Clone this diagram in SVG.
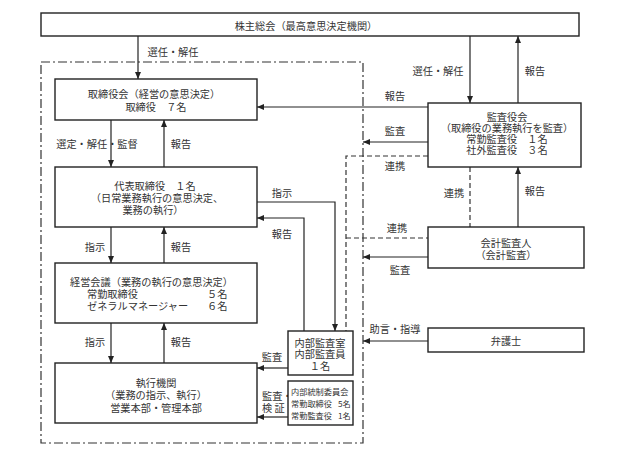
<svg xmlns="http://www.w3.org/2000/svg" width="624" height="453" viewBox="0 0 624 453">
<style>
text{font-family:"Noto Sans CJK JP","Noto Sans CJK SC",sans-serif;font-size:10.2px;fill:#333;dominant-baseline:central}
.c{text-anchor:middle}
.s{font-size:8.2px}
.box{fill:#fff;stroke:#222;stroke-width:1.4}
.ln{fill:none;stroke:#222;stroke-width:1.2}
.dash{fill:none;stroke:#333;stroke-width:1.2;stroke-dasharray:5 3}
.dd{fill:none;stroke:#333;stroke-width:1.2;stroke-dasharray:9 3 2 3}
</style>
<defs>
<marker id="ah" markerUnits="userSpaceOnUse" markerWidth="8" markerHeight="7" refX="7" refY="3" orient="auto">
<path d="M0,0 L7,3 L0,6 z" fill="#222"/>
</marker>
</defs>
<rect width="624" height="453" fill="#fff"/>
<rect id="boundary" class="dd" x="41" y="62" width="322" height="381"/>
<g id="connectors">
<path class="ln" d="M138,36 V79" marker-end="url(#ah)"/>
<path class="ln" d="M470,36 V103" marker-end="url(#ah)"/>
<path class="ln" d="M518,103 V36" marker-end="url(#ah)"/>
<path class="ln" d="M428,107 H257" marker-end="url(#ah)"/>
<path class="ln" d="M428,142 H363" marker-end="url(#ah)"/>
<path class="ln" d="M111,120 V167" marker-end="url(#ah)"/>
<path class="ln" d="M164,167 V120" marker-end="url(#ah)"/>
<path class="ln" d="M111,227 V263" marker-end="url(#ah)"/>
<path class="ln" d="M164,263 V227" marker-end="url(#ah)"/>
<path class="ln" d="M111,323 V363" marker-end="url(#ah)"/>
<path class="ln" d="M164,363 V323" marker-end="url(#ah)"/>
<path class="ln" d="M257,202 H335 V331" marker-end="url(#ah)"/>
<path class="ln" d="M304,331 V218 H257" marker-end="url(#ah)"/>
<path class="ln" d="M288,368 H257" marker-end="url(#ah)"/>
<path class="ln" d="M288,417 H257" marker-end="url(#ah)"/>
<path class="ln" d="M518,227 V167" marker-end="url(#ah)"/>
<path class="ln" d="M428,257 H363" marker-end="url(#ah)"/>
<path class="ln" d="M428,341 H363" marker-end="url(#ah)"/>
<path class="dash" d="M428,156 H346 V331"/>
<path class="dash" d="M346,238 H428"/>
<path class="dash" d="M470,167 V227"/>
<text class="c" x="173" y="51">選任・解任</text>
<text class="c" x="438" y="70">選任・解任</text>
<text class="c" x="535" y="70">報告</text>
<text class="c" x="395" y="95">報告</text>
<text class="c" x="395" y="130">監査</text>
<text class="c" x="395" y="165">連携</text>
<text class="c" x="454" y="192">連携</text>
<text class="c" x="535" y="190">報告</text>
<text class="c" x="397" y="227">連携</text>
<text class="c" x="400" y="269">監査</text>
<text class="c" x="395" y="328">助言・指導</text>
<text class="c" x="97" y="143">選定・解任・監督</text>
<text class="c" x="181" y="143">報告</text>
<text class="c" x="95" y="246">指示</text>
<text class="c" x="181" y="246">報告</text>
<text class="c" x="95" y="341">指示</text>
<text class="c" x="181" y="341">報告</text>
<text class="c" x="282" y="192">指示</text>
<text class="c" x="282" y="233">報告</text>
<text class="c" x="272" y="356">監査</text>
<text x="262" y="395">監査・<tspan x="262" y="407">検 証</tspan></text>
</g>
<g id="shareholders">
<rect class="box" x="41" y="13" width="538" height="23"/>
<text class="c" x="306" y="25">株主総会（最高意思決定機関）</text>
</g>
<g id="board">
<rect class="box" x="55" y="79" width="202" height="41"/>
<text class="c" x="154" y="93">取締役会（経営の意思決定）<tspan x="156" y="106">取締役　７名</tspan></text>
</g>
<g id="representative">
<rect class="box" x="55" y="167" width="202" height="60"/>
<text class="c" x="155" y="185">代表取締役　１名<tspan x="157" y="197">（日常業務執行の意思決定、</tspan><tspan x="153" y="209">業務の執行）</tspan></text>
</g>
<g id="management">
<rect class="box" x="55" y="263" width="202" height="60"/>
<text x="70" y="281">経営会議（業務の執行の意思決定）<tspan x="87" y="293">常勤取締役</tspan><tspan x="207" y="293">５名</tspan><tspan x="87" y="305">ゼネラルマネージャー</tspan><tspan x="207" y="305">６名</tspan></text>
</g>
<g id="execution">
<rect class="box" x="55" y="363" width="202" height="60"/>
<text class="c" x="156" y="382">執行機関<tspan x="156" y="394">（業務の指示、執行）</tspan><tspan x="156" y="407">営業本部・管理本部</tspan></text>
</g>
<g id="auditboard">
<rect class="box" x="428" y="103" width="153" height="64"/>
<text class="c" x="507" y="116">監査役会<tspan x="507" y="127">（取締役の業務執行を監査）</tspan><tspan x="507" y="138">常勤監査役　１名</tspan><tspan x="507" y="149">社外監査役　３名</tspan></text>
</g>
<g id="accountingauditor">
<rect class="box" x="428" y="227" width="156" height="41"/>
<text class="c" x="506" y="242">会計監査人<tspan x="506" y="254">（会計監査）</tspan></text>
</g>
<g id="lawyer">
<rect class="box" x="428" y="328" width="156" height="24"/>
<text class="c" x="506" y="340">弁護士</text>
</g>
<g id="internalaudit">
<rect class="box" x="288" y="331" width="65" height="44"/>
<text class="c" x="320" y="342">内部監査室<tspan x="320" y="353">内部監査員</tspan><tspan x="320" y="365">１名</tspan></text>
</g>
<g id="internalcontrol">
<rect class="box" x="288" y="381" width="65" height="44"/>
<text class="s" x="291" y="391">内部統制委員会<tspan x="291" y="403">常勤取締役</tspan><tspan x="338" y="403">5名</tspan><tspan x="291" y="415">常勤監査役</tspan><tspan x="338" y="415">1名</tspan></text>
</g>
</svg>
